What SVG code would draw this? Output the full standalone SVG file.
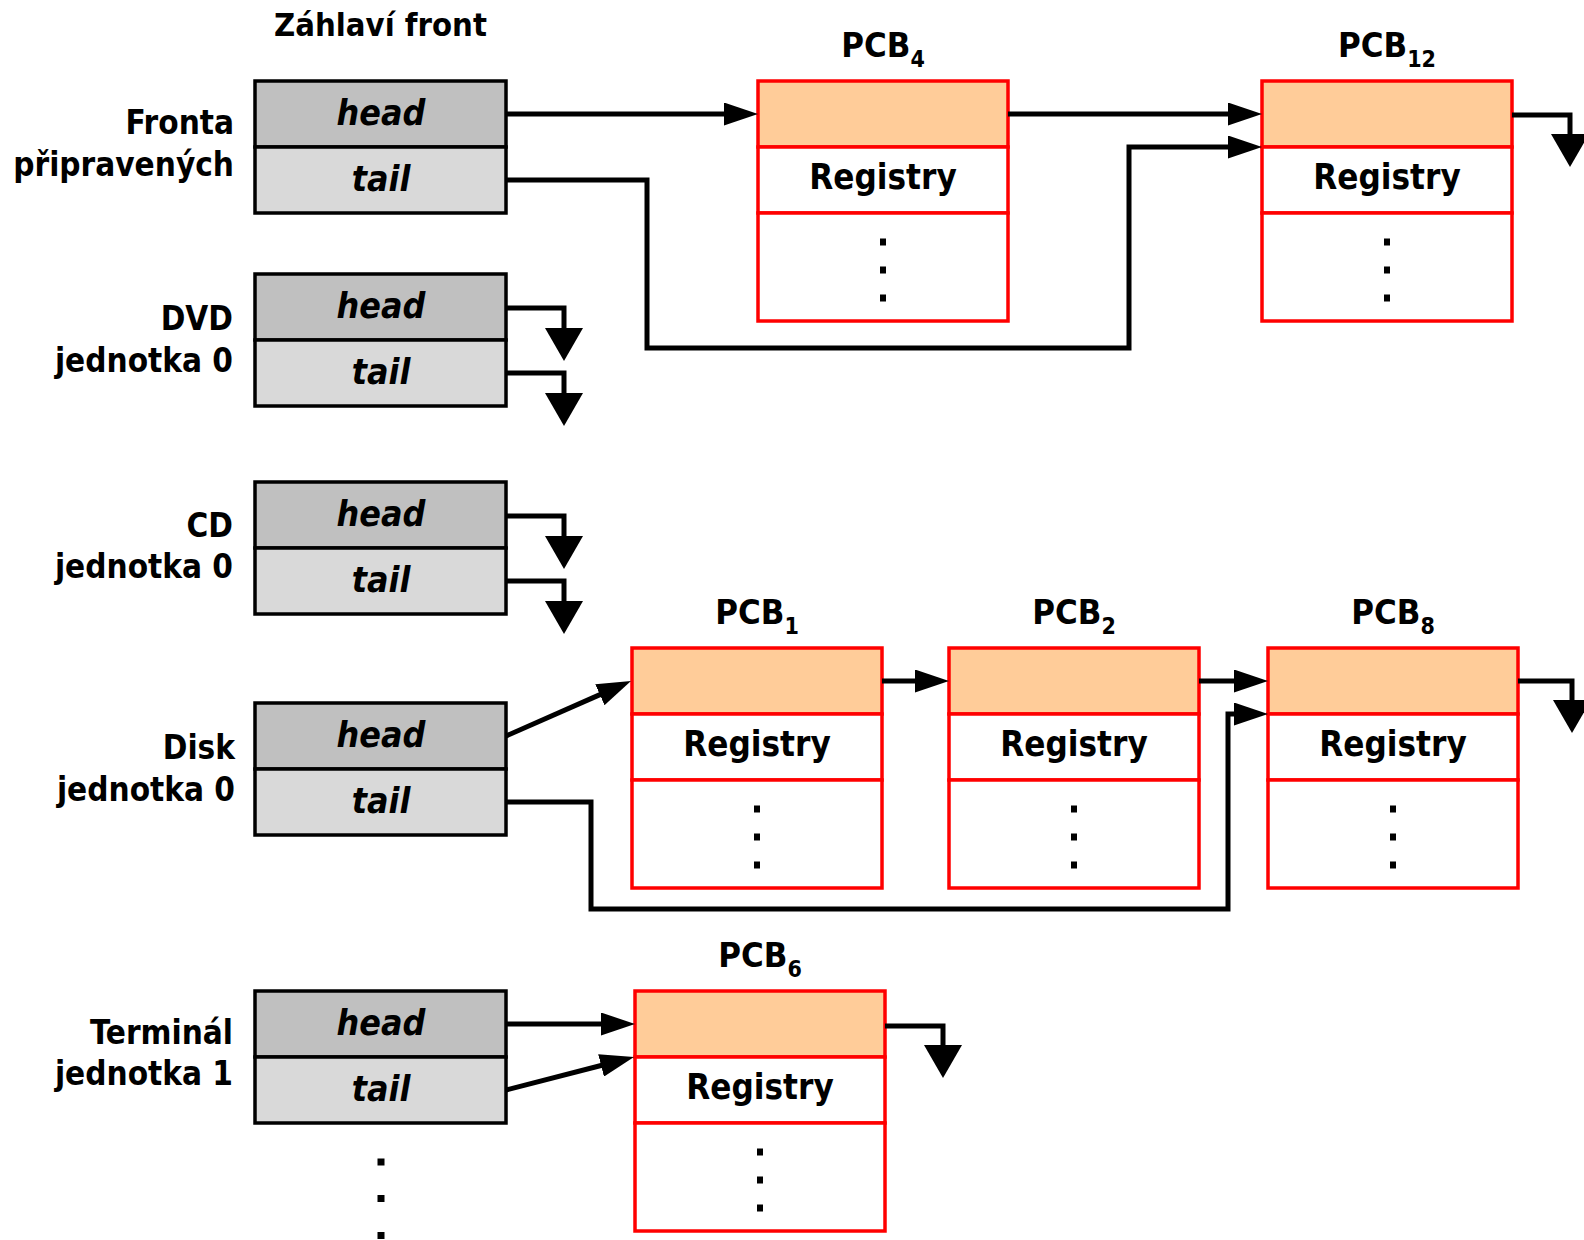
<svg xmlns="http://www.w3.org/2000/svg" width="1584" height="1240" viewBox="0 0 1584 1240">
<style>
  text{font-family:"DejaVu Sans Condensed","DejaVu Sans",sans-serif;font-stretch:condensed;font-weight:bold;fill:#000}
  .lbl{font-size:33px;text-anchor:end}
  .title{font-size:32.5px;text-anchor:middle}
  .ht{font-style:italic;font-size:35.5px;text-anchor:middle}
  .pcb{font-size:34.5px;text-anchor:middle}
  .sub{font-size:23px}
  .reg{font-size:34.7px;text-anchor:middle}
  .hd{fill:#c0c0c0;stroke:#000;stroke-width:3.5}
  .tl{fill:#d9d9d9;stroke:#000;stroke-width:3.5}
  .or{fill:#ffcc99;stroke:#ff0000;stroke-width:3.5}
  .wh{fill:#ffffff;stroke:#ff0000;stroke-width:3.5}
  .c{fill:none;stroke:#000;stroke-width:5;stroke-linejoin:miter}
  .ah{marker-end:url(#arr)}
  .ad{marker-end:url(#down)}
  .dot{fill:#000}
</style>
<defs>
  <marker id="arr" markerUnits="userSpaceOnUse" markerWidth="34" markerHeight="23" viewBox="0 0 34 23" refX="2" refY="11.5" orient="auto">
    <path d="M0,0 L34,11.5 L0,23 z" fill="#000"/>
  </marker>
  <marker id="down" markerUnits="userSpaceOnUse" markerWidth="33" markerHeight="38" viewBox="0 0 33 38" refX="2" refY="19" orient="auto">
    <path d="M0,0 L33,19 L0,38 z" fill="#000"/>
  </marker>
</defs>

<text class="title" x="380.5" y="36">Záhlaví front</text>

<!-- Queue headers -->
<g id="q-ready">
  <rect class="hd" x="255" y="81" width="251" height="66"/>
  <rect class="tl" x="255" y="147" width="251" height="66"/>
  <text class="ht" x="381" y="125">head</text>
  <text class="ht" x="381" y="191">tail</text>
  <text class="lbl" x="234" y="134">Fronta</text>
  <text class="lbl" x="234" y="176">připravených</text>
</g>
<g id="q-dvd">
  <rect class="hd" x="255" y="274" width="251" height="66"/>
  <rect class="tl" x="255" y="340" width="251" height="66"/>
  <text class="ht" x="381" y="318">head</text>
  <text class="ht" x="381" y="384">tail</text>
  <text class="lbl" x="233" y="330">DVD</text>
  <text class="lbl" x="233" y="372">jednotka 0</text>
</g>
<g id="q-cd">
  <rect class="hd" x="255" y="482" width="251" height="66"/>
  <rect class="tl" x="255" y="548" width="251" height="66"/>
  <text class="ht" x="381" y="526">head</text>
  <text class="ht" x="381" y="592">tail</text>
  <text class="lbl" x="233" y="537">CD</text>
  <text class="lbl" x="233" y="578">jednotka 0</text>
</g>
<g id="q-disk">
  <rect class="hd" x="255" y="703" width="251" height="66"/>
  <rect class="tl" x="255" y="769" width="251" height="66"/>
  <text class="ht" x="381" y="747">head</text>
  <text class="ht" x="381" y="813">tail</text>
  <text class="lbl" x="235" y="759">Disk</text>
  <text class="lbl" x="235" y="801">jednotka 0</text>
</g>
<g id="q-term">
  <rect class="hd" x="255" y="991" width="251" height="66"/>
  <rect class="tl" x="255" y="1057" width="251" height="66"/>
  <text class="ht" x="381" y="1035">head</text>
  <text class="ht" x="381" y="1101">tail</text>
  <text class="lbl" x="233" y="1044">Terminál</text>
  <text class="lbl" x="233" y="1085">jednotka 1</text>
</g>
<g id="more-dots">
  <rect class="dot" x="377.5" y="1158.5" width="7" height="7"/>
  <rect class="dot" x="377.5" y="1195" width="7" height="7"/>
  <rect class="dot" x="377.5" y="1232" width="7" height="7"/>
</g>

<!-- PCBs -->
<g id="pcb4">
  <text class="pcb" x="883" y="57">PCB<tspan class="sub" dy="10">4</tspan></text>
  <rect class="or" x="758" y="81" width="250" height="66"/>
  <rect class="wh" x="758" y="147" width="250" height="66"/>
  <rect class="wh" x="758" y="213" width="250" height="108"/>
  <text class="reg" x="883" y="189">Registry</text>
  <rect class="dot" x="880" y="238.5" width="6" height="7"/>
  <rect class="dot" x="880" y="266.5" width="6" height="7"/>
  <rect class="dot" x="880" y="294.5" width="6" height="7"/>
</g>
<g id="pcb12">
  <text class="pcb" x="1387" y="57">PCB<tspan class="sub" dy="10">12</tspan></text>
  <rect class="or" x="1262" y="81" width="250" height="66"/>
  <rect class="wh" x="1262" y="147" width="250" height="66"/>
  <rect class="wh" x="1262" y="213" width="250" height="108"/>
  <text class="reg" x="1387" y="189">Registry</text>
  <rect class="dot" x="1384" y="238.5" width="6" height="7"/>
  <rect class="dot" x="1384" y="266.5" width="6" height="7"/>
  <rect class="dot" x="1384" y="294.5" width="6" height="7"/>
</g>
<g id="pcb1">
  <text class="pcb" x="757" y="624">PCB<tspan class="sub" dy="10">1</tspan></text>
  <rect class="or" x="632" y="648" width="250" height="66"/>
  <rect class="wh" x="632" y="714" width="250" height="66"/>
  <rect class="wh" x="632" y="780" width="250" height="108"/>
  <text class="reg" x="757" y="756">Registry</text>
  <rect class="dot" x="754" y="805.5" width="6" height="7"/>
  <rect class="dot" x="754" y="833.5" width="6" height="7"/>
  <rect class="dot" x="754" y="861.5" width="6" height="7"/>
</g>
<g id="pcb2">
  <text class="pcb" x="1074" y="624">PCB<tspan class="sub" dy="10">2</tspan></text>
  <rect class="or" x="949" y="648" width="250" height="66"/>
  <rect class="wh" x="949" y="714" width="250" height="66"/>
  <rect class="wh" x="949" y="780" width="250" height="108"/>
  <text class="reg" x="1074" y="756">Registry</text>
  <rect class="dot" x="1071" y="805.5" width="6" height="7"/>
  <rect class="dot" x="1071" y="833.5" width="6" height="7"/>
  <rect class="dot" x="1071" y="861.5" width="6" height="7"/>
</g>
<g id="pcb8">
  <text class="pcb" x="1393" y="624">PCB<tspan class="sub" dy="10">8</tspan></text>
  <rect class="or" x="1268" y="648" width="250" height="66"/>
  <rect class="wh" x="1268" y="714" width="250" height="66"/>
  <rect class="wh" x="1268" y="780" width="250" height="108"/>
  <text class="reg" x="1393" y="756">Registry</text>
  <rect class="dot" x="1390" y="805.5" width="6" height="7"/>
  <rect class="dot" x="1390" y="833.5" width="6" height="7"/>
  <rect class="dot" x="1390" y="861.5" width="6" height="7"/>
</g>
<g id="pcb6">
  <text class="pcb" x="760" y="967">PCB<tspan class="sub" dy="10">6</tspan></text>
  <rect class="or" x="635" y="991" width="250" height="66"/>
  <rect class="wh" x="635" y="1057" width="250" height="66"/>
  <rect class="wh" x="635" y="1123" width="250" height="108"/>
  <text class="reg" x="760" y="1099">Registry</text>
  <rect class="dot" x="757" y="1148.5" width="6" height="7"/>
  <rect class="dot" x="757" y="1176.5" width="6" height="7"/>
  <rect class="dot" x="757" y="1204.5" width="6" height="7"/>
</g>

<!-- Connectors -->
<g id="connectors">
  <path class="c ah" d="M506,114 H726"/>
  <path class="c ah" d="M1008,114 H1230"/>
  <path class="c ah" d="M506,180 H647 V348 H1129 V147 H1230"/>
  <path class="c ad" d="M1512,115 H1570 V136"/>
  <path class="c ad" d="M506,308 H564 V330"/>
  <path class="c ad" d="M506,373 H564 V395"/>
  <path class="c ad" d="M506,516 H564 V538"/>
  <path class="c ad" d="M506,581 H564 V603"/>
  <path class="c ah" d="M506,736 L601.7,693.9"/>
  <path class="c ah" d="M882,681 H917"/>
  <path class="c ah" d="M1199,681 H1236"/>
  <path class="c ah" d="M506,802 H591 V909 H1228 V714 H1236"/>
  <path class="c ad" d="M1518,681 H1572 V702"/>
  <path class="c ah" d="M506,1024 H603"/>
  <path class="c ah" d="M506,1090 L603,1065"/>
  <path class="c ad" d="M885,1026 H943 V1047"/>
</g>
</svg>
